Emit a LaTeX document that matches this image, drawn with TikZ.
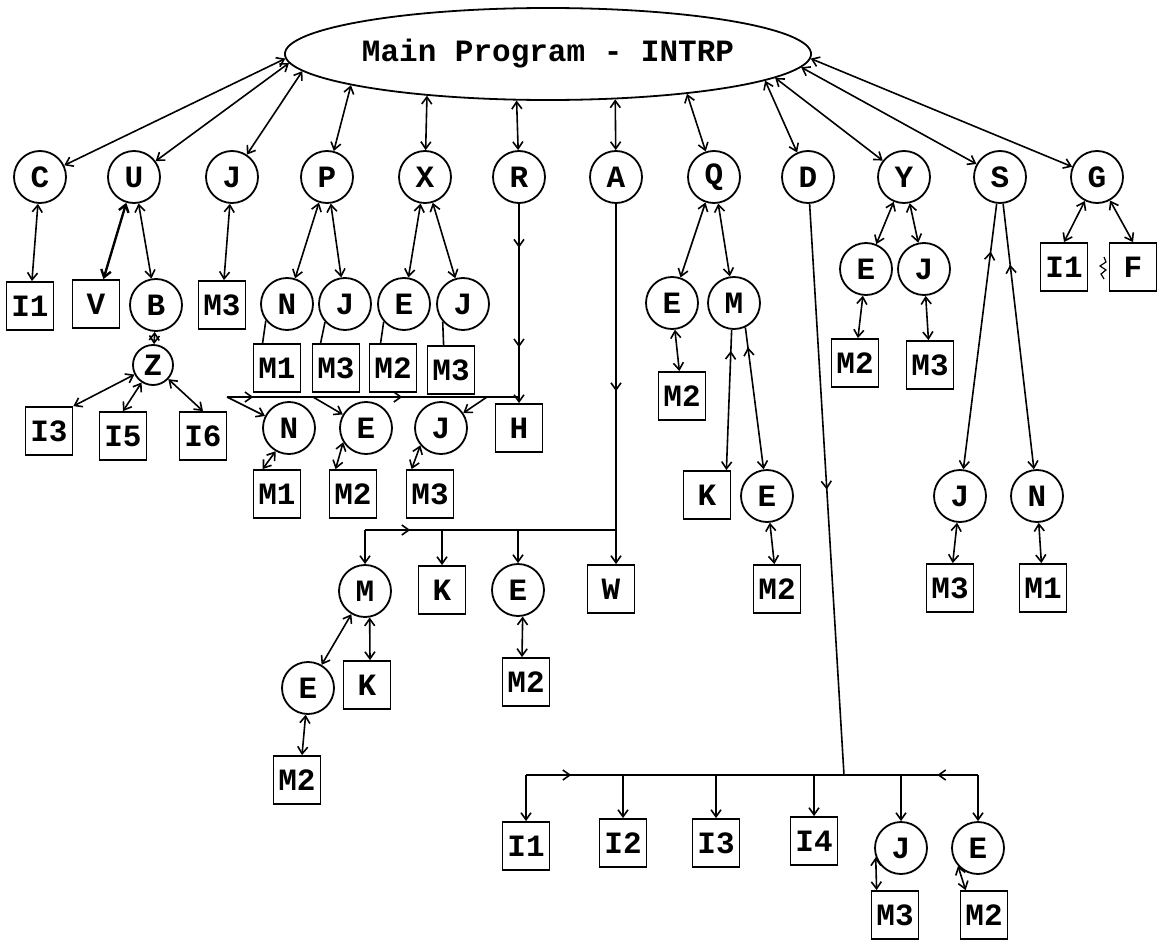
\documentclass[tikz,border=0pt]{standalone}
\usepackage{fontspec}
\setmainfont{Liberation Mono}
\usetikzlibrary{arrows.meta,decorations.markings,shapes.geometric}
\begin{document}
\begin{tikzpicture}[x=1pt,y=-1pt,
  >={Straight Barb[length=7pt,width=10pt]},
  every node/.style={font=\fontsize{31}{31}\selectfont\bfseries, inner sep=0pt},
  circ/.style={draw,circle,minimum size=52pt,line width=1.8pt},
  zcirc/.style={draw,circle,minimum size=40pt,line width=1.8pt},
  bx/.style={draw,rectangle,minimum width=47pt,minimum height=48pt,line width=1.8pt},
  ln/.style={line width=1.6pt},
  marka/.style={decoration={markings,mark=at position #1 with {\arrow{>}}},postaction={decorate}},
  markr/.style={decoration={markings,mark=at position #1 with {\arrowreversed{>}}},postaction={decorate}},
]
\useasboundingbox (0,0) rectangle (1163,942);

% main program
\node[draw,ellipse,minimum width=523pt,minimum height=92pt,line width=1.8pt] (main) at (548,54) {Main Program - INTRP};

% top row
\node[circ] (C)  at (40,177)   {C};
\node[circ] (U)  at (134,177)  {U};
\node[circ] (Jt) at (232,177)  {J};
\node[circ] (P)  at (327,177)  {P};
\node[circ] (X)  at (425,177)  {X};
\node[circ] (R)  at (519,177)  {R};
\node[circ] (A)  at (616,177)  {A};
\node[circ] (Q)  at (714,177)  {Q};
\node[circ] (D)  at (808,177)  {D};
\node[circ] (Y)  at (904,177)  {Y};
\node[circ] (S)  at (1000,177) {S};
\node[circ] (G)  at (1097,177) {G};

% second row (left)
\node[bx]   (I1a) at (30,306)  {I1};
\node[bx]   (V)   at (96,304)  {V};
\node[circ] (B)   at (156,305) {B};
\node[bx]   (M3a) at (222,305) {M3};
\node[circ] (Np)  at (287,304) {N};
\node[circ] (Jp)  at (345,304) {J};
\node[circ] (Ex)  at (404,304) {E};
\node[circ] (Jx)  at (463,304) {J};
\node[bx]   (M1p) at (277,368) {M1};
\node[bx]   (M3p) at (336,368) {M3};
\node[bx]   (M2x) at (393,368) {M2};
\node[bx]   (M3x) at (451,370) {M3};

\node[zcirc] (Z) at (153,365) {Z};
\node[bx] (I3) at (49,431)  {I3};
\node[bx] (I5) at (123,436) {I5};
\node[bx] (I6) at (203,436) {I6};

% R subtree
\node[circ] (N2) at (289,428) {N};
\node[circ] (E2) at (366,428) {E};
\node[circ] (J2) at (441,428) {J};
\node[bx]   (H)  at (519,428) {H};
\node[bx] (M1b) at (277,494) {M1};
\node[bx] (M2b) at (353,494) {M2};
\node[bx] (M3b) at (430,494) {M3};

% A subtree
\node[circ] (M)  at (365,591) {M};
\node[bx]   (K1) at (442,590) {K};
\node[circ] (E3) at (518,590) {E};
\node[bx]   (W)  at (611,589) {W};
\node[circ] (E4) at (308,688) {E};
\node[bx]   (K2) at (367,685) {K};
\node[bx]   (M2c) at (526,682) {M2};
\node[bx]   (M2d) at (297,780) {M2};

% Q subtree
\node[circ] (Eq)  at (672,303) {E};
\node[circ] (Mq)  at (734,303) {M};
\node[bx]   (M2q) at (682,396) {M2};
\node[bx]   (Kq)  at (707,495) {K};
\node[circ] (Eq2) at (767,496) {E};
\node[bx]   (M2q2) at (777,589) {M2};

% Y subtree
\node[circ] (Ey)  at (866,269) {E};
\node[circ] (Jy)  at (924,269) {J};
\node[bx]   (M2y) at (855,363) {M2};
\node[bx]   (M3y) at (930,365) {M3};

% S subtree
\node[circ] (Js)  at (960,496)  {J};
\node[circ] (Ns)  at (1037,496) {N};
\node[bx]   (M3s) at (950,588)  {M3};
\node[bx]   (M1s) at (1043,588) {M1};

% G subtree
\node[bx] (I1g) at (1064,267) {I1};
\node[bx] (F)   at (1133,267) {F};

% D subtree
\node[bx]   (I1d) at (526,846) {I1};
\node[bx]   (I2)  at (623,843) {I2};
\node[bx]   (I3d) at (716,843) {I3};
\node[bx]   (I4)  at (814,841) {I4};
\node[circ] (Jd)  at (901,848) {J};
\node[circ] (Ed)  at (978,848) {E};
\node[bx]   (M3d) at (895,915) {M3};
\node[bx]   (M2e) at (984,915) {M2};

% ---- connectors from main
\foreach \n/\a in {C/181.8,U/182.6,Jt/184.6,P/189.5,X/199,R/236,A/326,Q/344.5,D/353.3,Y/354.4,S/357.2,G/359.5}
  \draw[ln,<->] (main.\a) -- (\n);

% second level
\draw[ln,<->] (C) -- (I1a);
\draw[line width=2.4pt,<->] (U) -- (V);
\draw[ln,<->] (U) -- (B);
\draw[ln,<->] (Jt) -- (M3a);
\draw[ln,<->] (P) -- (Np);
\draw[ln,<->] (P) -- (Jp);
\draw[ln,<->] (X) -- (Ex);
\draw[ln,<->] (X) -- (Jx);
\draw[ln] (Np.218) -- ([xshift=10pt]M1p.north west);
\draw[ln] (Jp.222) -- ([xshift=9pt]M3p.north west);
\draw[ln] (Ex.221) -- ([xshift=12pt]M2x.north west);
\draw[ln] (Jx.221) -- ([xshift=17pt]M3x.north west);

% Z
\draw[ln,<->] (B) -- (Z);
\draw[ln,<->] (Z) -- (I3.north east);
\draw[ln,<->] (Z) -- (I5.north);
\draw[ln,<->] (Z) -- (I6.north);

% R
\draw[ln,->,decoration={markings,mark=at position 0.22 with {\arrow{>}},mark=at position 0.72 with {\arrow{>}}},postaction={decorate}] (R) -- (H);
\coordinate (rb)  at (519,397);
\coordinate (rbL) at (227,397);
\coordinate (rbE) at (313,397);
\coordinate (rbJ) at (487,397);
\draw[ln,decoration={markings,mark=at position 0.09 with {\arrow{>}},mark=at position 0.6 with {\arrow{>}}},postaction={decorate}] (rbL) -- (rb);
\draw[ln,->] (rbL) -- (N2);
\draw[ln,->] (rbE) -- (E2);
\draw[ln,->] (rbJ) -- (J2);
\draw[ln,<->] (N2.240) -- ([xshift=10pt]M1b.north west);
\draw[ln,<->] (E2.212) -- ([xshift=7pt]M2b.north west);
\draw[ln,<->] (J2.220) -- ([xshift=6pt]M3b.north west);

% A
\draw[ln,->,marka=0.52] (A) -- (A |- W.north);
\coordinate (ab)  at (616,530);
\coordinate (abL) at (365,530);
\draw[ln,marka=0.18] (abL) -- (ab);
\draw[ln,->] (abL) -- (M);
\draw[ln,->] (K1 |- ab) -- (K1);
\draw[ln,->] (E3 |- ab) -- (E3);
\draw[ln,<->] (M) -- (E4);
\draw[ln,<->] (M.-80) -- ([xshift=3pt]K2.north);
\draw[ln,<->] (E4.-95) -- ([xshift=5pt]M2d.north);
\draw[ln,<->] (E3.-80) -- ([xshift=-4pt]M2c.north);

% Q
\draw[ln,<->] (Q) -- (Eq);
\draw[ln,<->] (Q) -- (Mq);
\draw[ln,<->] (Eq) -- (M2q);
\draw[ln,->,markr=0.15] (Mq.-95) -- ([xshift=-5pt]Kq.north east);
\draw[ln,->,markr=0.14] (Mq.-65) -- (Eq2);
\draw[ln,<->] (Eq2) -- (M2q2);

% D
\coordinate (db)  at (844,775);
\coordinate (dbL) at (526,775);
\coordinate (dbR) at (978,775);
\draw[ln,marka=0.5] (D) -- (db);
\draw[ln,decoration={markings,mark=at position 0.1 with {\arrow{>}},mark=at position 0.91 with {\arrowreversed{>}}},postaction={decorate}] (dbL) -- (dbR);
\foreach \n in {I1d,I2,I3d,I4,Jd,Ed}
  \draw[ln,->] (\n |- db) -- (\n);
\draw[ln,<->] (Jd.200) -- ([xshift=6pt]M3d.north west);
\draw[ln,<->] (Ed.222) -- ([xshift=6pt]M2e.north west);

% Y
\draw[ln,<->] (Y) -- (Ey);
\draw[ln,<->] (Y) -- (Jy);
\draw[ln,<->] (Ey) -- (M2y);
\draw[ln,<->] (Jy) -- (M3y);

% S
\draw[ln,->,markr=0.18] (S) -- (Js);
\draw[ln,->,markr=0.23] (S) -- (Ns);
\draw[ln,<->] (Js) -- (M3s);
\draw[ln,<->] (Ns) -- (M1s);

% G
\draw[ln,<->] (G) -- (I1g.north);
\draw[ln,<->] (G) -- (F.north);
\draw[line width=1.2pt] (1104,257) -- (1106,262) -- (1100,266) -- (1106,270) -- (1101,274) -- (1104,279);
\end{tikzpicture}
\end{document}
